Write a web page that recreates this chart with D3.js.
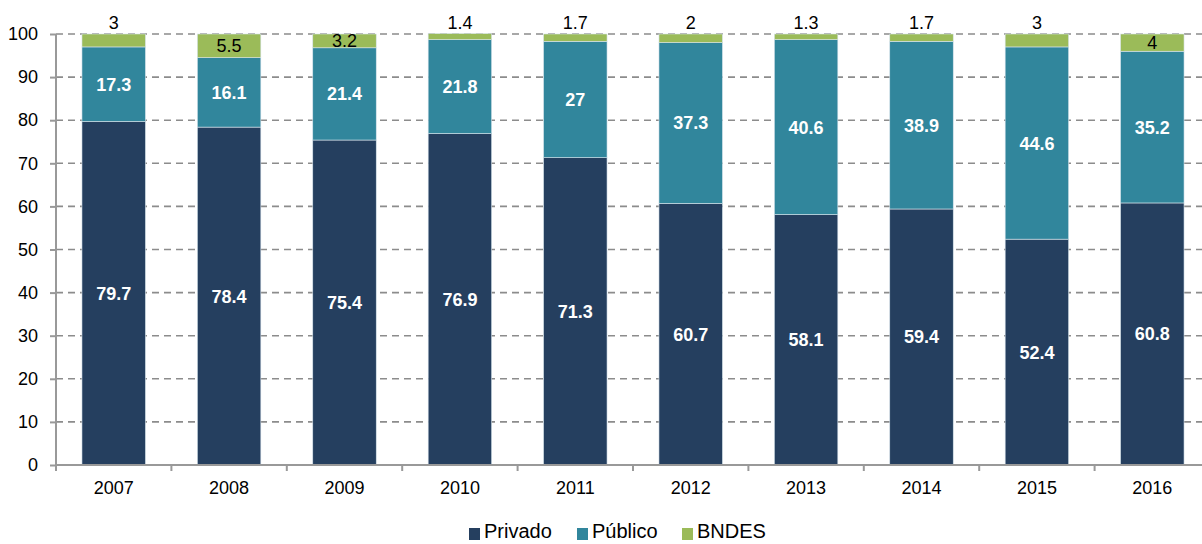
<!DOCTYPE html>
<html>
<head>
<meta charset="utf-8">
<script src="https://cdn.jsdelivr.net/npm/d3@7"></script>
<style>
  html, body { margin: 0; padding: 0; background: #fff; }
  svg { display: block; font-family: "Liberation Sans", Arial, sans-serif; }
</style>
</head>
<body>
<svg id="chart" width="1202" height="544"></svg>
<script>
// Composição do financiamento por ano (%)
const years = ["2007", "2008", "2009", "2010", "2011", "2012", "2013", "2014", "2015", "2016"];
const privado = [79.7, 78.4, 75.4, 76.9, 71.3, 60.7, 58.1, 59.4, 52.4, 60.8];
const publico = [17.3, 16.1, 21.4, 21.8, 27, 37.3, 40.6, 38.9, 44.6, 35.2];
const bndes = [3, 5.5, 3.2, 1.4, 1.7, 2, 1.3, 1.7, 3, 4];
const seriesNames = ["Privado", "Público", "BNDES"];
const seriesColors = ["#253f5f", "#31869c", "#9bbb59"];
const yTicks = [0, 10, 20, 30, 40, 50, 60, 70, 80, 90, 100];

const rows = years.map((y, i) => ({
  year: y, "Privado": privado[i], "Público": publico[i], "BNDES": bndes[i]
}));

const svg = d3.select("#chart");
const margin = { left: 56, top: 34, bottom: 79 };
const plotRight = 1210;
const height = 544;

const x = d3.scaleBand().domain(years).range([margin.left, plotRight]).paddingInner(0.45).paddingOuter(0.225);
const y = d3.scaleLinear().domain([0, 100]).range([height - margin.bottom, margin.top]);

// dashed horizontal grid
svg.append("g").selectAll("line")
  .data(yTicks.filter(t => t > 0))
  .join("line")
  .attr("x1", margin.left).attr("x2", 1202)
  .attr("y1", d => y(d)).attr("y2", d => y(d))
  .attr("stroke", "#8c8c8c").attr("stroke-width", 1.6)
  .attr("stroke-dasharray", "7,5");

const stack = d3.stack().keys(seriesNames)(rows);

const layers = svg.append("g").selectAll("g")
  .data(stack)
  .join("g")
  .attr("fill", (d, i) => seriesColors[i]);

layers.selectAll("rect")
  .data(d => d)
  .join("rect")
  .attr("x", d => x(d.data.year))
  .attr("width", x.bandwidth())
  .attr("y", d => y(d[1]))
  .attr("height", d => y(d[0]) - y(d[1]))
  .attr("stroke", "#d8e4ec").attr("stroke-width", 0.6);

// value labels
stack.forEach((layer, si) => {
  const key = seriesNames[si];
  const g = svg.append("g");
  layer.forEach(d => {
    const v = d.data[key];
    const cx = x(d.data.year) + x.bandwidth() / 2;
    if (si < 2) {
      g.append("text")
        .attr("x", cx).attr("y", (y(d[0]) + y(d[1])) / 2)
        .attr("dy", "0.36em")
        .attr("text-anchor", "middle")
        .attr("fill", "#fff").attr("font-weight", "bold").attr("font-size", 18)
        .text(v);
    } else {
      const small = v <= 3;
      g.append("text")
        .attr("x", cx)
        .attr("y", small ? y(d[1]) - 5 : (y(d[0]) + y(d[1])) / 2)
        .attr("dy", small ? 0 : "0.36em")
        .attr("text-anchor", "middle")
        .attr("fill", "#000").attr("font-size", 18)
        .text(v);
    }
  });
});

// y axis
const yAxis = svg.append("g")
  .attr("transform", `translate(${margin.left},0)`)
  .call(d3.axisLeft(y).tickValues(yTicks).tickSize(6).tickPadding(12));
yAxis.select(".domain").attr("stroke", "#999").attr("stroke-width", 2).attr("d", `M0,${y(0)}V${y(100)}`);
yAxis.selectAll(".tick line").attr("stroke", "#999").attr("stroke-width", 2);
yAxis.selectAll(".tick text").attr("font-size", 18).attr("fill", "#000").attr("font-family", "Liberation Sans, Arial, sans-serif");

// x axis with ticks on category boundaries
const xAxis = svg.append("g")
  .attr("transform", `translate(0,${y(0)})`)
  .call(d3.axisBottom(x).tickSize(0).tickPadding(16));
xAxis.select(".domain").attr("stroke", "#999").attr("stroke-width", 2).attr("d", `M${margin.left},0H1202`);
xAxis.selectAll(".tick text").attr("font-size", 18).attr("fill", "#000").attr("font-family", "Liberation Sans, Arial, sans-serif");
const gap = (x.step() - x.bandwidth()) / 2;
svg.append("g").selectAll("line")
  .data(years)
  .join("line")
  .attr("x1", d => x(d) - gap)
  .attr("x2", d => x(d) - gap)
  .attr("y1", y(0)).attr("y2", y(0) + 6)
  .attr("stroke", "#999").attr("stroke-width", 2);

// legend
const legendX = [469, 577, 682];
const legend = svg.append("g");
seriesNames.forEach((name, i) => {
  legend.append("rect")
    .attr("x", legendX[i]).attr("y", 528).attr("width", 11).attr("height", 12)
    .attr("fill", seriesColors[i]);
  legend.append("text")
    .attr("x", legendX[i] + 15).attr("y", 538)
    .attr("font-size", 20).attr("fill", "#000")
    .text(name);
});
</script>
</body>
</html>
